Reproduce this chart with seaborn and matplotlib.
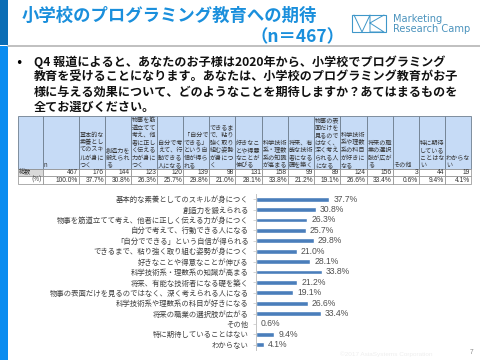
import matplotlib
matplotlib.use("Agg")
import matplotlib.pyplot as plt
from matplotlib.patches import Rectangle
import seaborn as sns

sns.set_style("white")
cjk = ['Noto Sans CJK JP', 'DejaVu Sans']
plt.rcParams['font.family'] = cjk

title_top = "小学校のプログラミング教育への期待"
title_n = "（n＝467）"
question = ["Q4 報道によると、あなたのお子様は2020年から、小学校でプログラミング",
            "教育を受けることになります。あなたは、小学校のプログラミング教育がお子",
            "様に与える効果について、どのようなことを期待しますか？あてはまるものを",
            "全てお選びください。"]

labels = ["基本的な素養としてのスキルが身につく", "創造力を鍛えられる",
          "物事を筋道立てて考え、他者に正しく伝える力が身につく", "自分で考えて、行動できる人になる",
          "「自分でできる」という自信が得られる", "できるまで、粘り強く取り組む姿勢が身につく",
          "好きなことや得意なことが伸びる", "科学技術系・理数系の知識が高まる",
          "将来、有能な技術者になる礎を築く", "物事の表面だけを見るのではなく、深く考えられる人になる",
          "科学技術系や理数系の科目が好きになる", "将来の職業の選択肢が広がる", "その他",
          "特に期待していることはない", "わからない"]
percent = [37.7, 30.8, 26.3, 25.7, 29.8, 21.0, 28.1, 33.8, 21.2, 19.1, 26.6, 33.4, 0.6, 9.4, 4.1]

headers = ["n", "基本的な\n素養とし\nてのスキ\nルが身に\nつく", "創造力を\n鍛えられ\nる",
           "物事を筋\n道立てて\n考え、他\n者に正し\nく伝える\n力が身に\nつく",
           "自分で考\nえて、行\n動できる\n人になる", "「自分で\nできる」\nという自\n信が得ら\nれる",
           "できるま\nで、粘り\n強く取り\n組む姿勢\nが身につ\nく", "好きなこ\nとや得意\nなことが\n伸びる",
           "科学技術\n系・理数\n系の知識\nが高まる", "将来、有\n能な技術\n者になる\n礎を築く",
           "物事の表\n面だけを\n見るので\nはなく、\n深く考え\nられる人\nになる",
           "科学技術\n系や理数\n系の科目\nが好きに\nなる", "将来の職\n業の選択\n肢が広が\nる", "その他",
           "特に期待\nしている\nことはな\nい", "わからな\nい"]
counts = [467, 176, 144, 123, 120, 139, 98, 131, 158, 99, 89, 124, 156, 3, 44, 19]
pct_row = [100.0] + percent

col_edges = [18, 43, 79, 105, 131, 157, 183, 209, 235, 262, 288, 314, 340, 367, 393, 419, 445, 471]

W, H = 480, 360
fig = plt.figure(figsize=(W / 100, H / 100), dpi=100, facecolor='white')

# slide background, pixel coordinates
bg = fig.add_axes([0, 0, 1, 1])
bg.set_xlim(0, W)
bg.set_ylim(H, 0)
bg.axis('off')
bg.add_patch(Rectangle((0, 0), 8, 45, color='#0b6db5', lw=0))
bg.add_patch(Rectangle((0, 46), 8, 314, color='#0a8cf0', lw=0))
bg.plot([8, 480], [45.5, 45.5], color='#b5b5b5', lw=1.2)

bg.text(22, 15.5, title_top, fontsize=12.5, fontweight='bold', color='#1a8fdc', va='center')
bg.text(250, 37, title_n, fontsize=12.5, fontweight='bold', color='#1a8fdc', va='center')

# logo
bg.add_patch(Rectangle((351.5, 15), 34, 17, fill=False, ec='#3f97c9', lw=0.8))
bg.plot([354, 362, 370, 370, 384, 370, 384], [15, 32, 15, 32, 32, 23, 15], color='#3f97c9', lw=0.7)
bg.text(393, 19.5, "Marketing", fontsize=7.1, color='#4b93bd', va='center', family='DejaVu Sans')
bg.text(393, 29, "Research Camp", fontsize=7.1, color='#4b93bd', va='center', family='DejaVu Sans')

bg.text(19, 63, "•", fontsize=9, color='black', ha='center', va='center', family='DejaVu Sans')
for i, line in enumerate(question):
    bg.text(34, 62.5 + i * 14.9, line, fontsize=8.7, fontweight='bold', color='#111111', va='center')

# table
head_top, head_bot, row1_bot, row2_bot = 115.5, 169, 176, 184
for c in range(len(col_edges) - 1):
    x0, x1 = col_edges[c], col_edges[c + 1]
    bg.add_patch(Rectangle((x0, head_top), x1 - x0, head_bot - head_top, fc='#c6dbf6', ec='#6f7f8f', lw=0.6))
    bg.add_patch(Rectangle((x0, head_bot), x1 - x0, row1_bot - head_bot, fc='#d9d9d9' if c == 0 else 'white', ec='#8c8c8c', lw=0.5))
    bg.add_patch(Rectangle((x0, row1_bot), x1 - x0, row2_bot - row1_bot, fc='white', ec='#8c8c8c', lw=0.5))
    if c == 0:
        bg.text(x0 + 1, 172.5, "総数", fontsize=4.4, color='#333333', va='center')
        bg.text(x1 - 1, 180, "(%)", fontsize=4.6, color='#333333', va='center', ha='right')
    else:
        # header lines stacked upward from the bottom of the cell
        lines = headers[c - 1].split("\n")[::-1]
        for k, line in enumerate(lines):
            bg.text(x0 + 0.8, head_bot - 3.8 - k * 7.55, line, fontsize=4.4, color='#333333', va='center', ha='left')
        bg.text(x1 - 1, 172.5, str(counts[c - 1]), fontsize=4.8, color='#333333', va='center', ha='right', family='Liberation Sans')
        bg.text(x1 - 1, 180, f"{pct_row[c - 1]:.1f}%", fontsize=4.8, color='#333333', va='center', ha='right', family='Liberation Sans')

bg.text(340, 354, "©2017 AsiaSystems Corporation", fontsize=4.6, color='#eeeeee', va='center', family='Liberation Sans')
bg.text(472, 352, "7", fontsize=4.8, color='#8a8a8a', va='center', ha='center', family='Liberation Sans')

# bar chart
ax = fig.add_axes([255.7 / W, 1 - 350 / H, 195 / W, 156 / H])
ax.patch.set_alpha(0)
sns.barplot(x=percent, y=labels, color='#4a7ebb', width=0.46, saturation=1, ax=ax)
ax.set_xlim(0, 100)
for s in ['top', 'right', 'bottom']:
    ax.spines[s].set_visible(False)
ax.spines['left'].set_color('#c4c4c4')
ax.spines['left'].set_linewidth(0.7)
ax.set_xticks([])
ax.set_ylabel("")
ax.tick_params(axis='y', length=2, width=0.5, color='#c4c4c4', pad=3, labelsize=5.3, labelcolor='#404040', left=True)
ax.bar_label(ax.containers[0], fmt='%.1f%%', padding=3, fontsize=6.2, color='#505050', family='Liberation Sans')

fig.savefig('out.png', dpi=100)
